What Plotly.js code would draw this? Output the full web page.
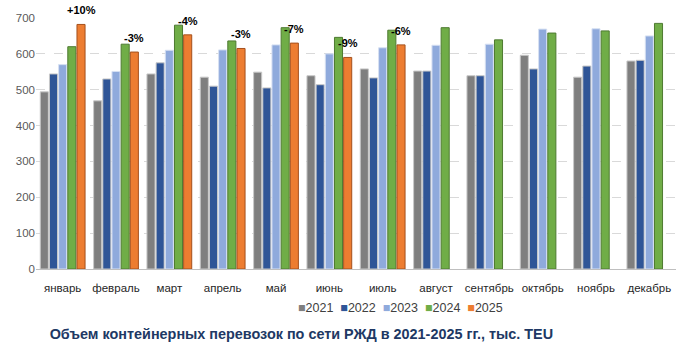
<!DOCTYPE html>
<html><head><meta charset="utf-8">
<script src="https://cdn.plot.ly/plotly-3.0.1.min.js"></script>
<style>body{margin:0;background:#fff}#c{width:690px;height:352px}</style>
</head><body><div id="c"></div>
<script>
const months = ['январь','февраль','март','апрель','май','июнь','июль','август','сентябрь','октябрь','ноябрь','декабрь'];
const y2021 = [494,469,544,535,549,539,558,552,539,596,535,580];
const y2022 = [544,530,575,510,505,514,533,552,539,558,566,582];
const y2023 = [570,551,610,611,625,600,617,624,627,669,670,650];
const y2024 = [620,627,680,636,673,646,666,673,639,658,664,685];
const y2025 = [682,605,653,615,630,590,625,null,null,null,null,null];
const changes = ['+10%','-3%','-4%','-3%','-7%','-9%','-6%','','','','',''];
const seriesNames = ['2021','2022','2023','2024','2025'];
const colors = ['#7F7F7F','#2F5597','#8FAADC','#70AD47','#ED7D31'];
const lineColors = ['#C8C8C8','#C8C8C8','#D6E0F2','#4E7A31','#A5501C'];
const W = 690, H = 352, M = {l:36, r:14, t:18, b:83};
const bargap = 0.14;
const data = [y2021,y2022,y2023,y2024,y2025].map((v,i)=>({
  type:'bar', x:months, y:v, name:seriesNames[i],
  marker:{color:colors[i], line:{color:lineColors[i], width:1}},
  hoverinfo:'skip', showlegend:false
}));

// offset of the last (2025) bar inside each group, in pixels
const catW = (W - M.l - M.r) / months.length;
const slotW = catW * (1 - bargap) / seriesNames.length;
const lastOffset = 2 * slotW;

const annotations = [];
months.forEach((m,i)=>{
  if (changes[i] && y2025[i] != null) {
    annotations.push({x:m, y:y2025[i], xref:'x', yref:'y', text:'<b>'+changes[i]+'</b>',
      showarrow:false, xshift:lastOffset, yshift:14, yanchor:'middle',
      font:{family:'Liberation Sans, Arial', size:11, color:'#000'}});
  }
});
// legend as one line of text
const legendText = seriesNames.map((n,i)=>'<span style="color:'+colors[i]+'">■</span>'+n).join('  ');
annotations.push({xref:'paper', yref:'paper', x:(400-M.l)/(W-M.l-M.r), y:-(308-(H-M.b))/(H-M.t-M.b),
  xanchor:'center', yanchor:'middle', showarrow:false, text:legendText,
  font:{family:'Liberation Sans Narrow, Liberation Sans, Arial', size:12.5, color:'#404040'}});

const layout = {
  width:W, height:H, margin:M,
  paper_bgcolor:'#fff', plot_bgcolor:'#fff',
  barmode:'group', bargap:bargap, bargroupgap:0.12,
  font:{family:'Liberation Sans, Arial', size:11, color:'#404040'},
  xaxis:{showgrid:false, showline:true, linecolor:'#BFBFBF', linewidth:1,
    tickfont:{size:11.5, color:'#262626'}, ticks:'', ticklabelstandoff:8, fixedrange:true},
  yaxis:{range:[0,700], dtick:100, showgrid:true, gridcolor:'#D9D9D9', griddash:'dash',
    zeroline:false, showline:false, tickfont:{size:11.5, color:'#595959'}, ticks:'', fixedrange:true},
  showlegend:false,
  annotations:annotations,
  title:{text:'<b>Объем контейнерных перевозок по сети РЖД в 2021-2025 гг., тыс. TEU</b>',
    x:0.072, xanchor:'left', xref:'container', y:0.052, yref:'container', yanchor:'middle',
    font:{family:'Liberation Sans, Arial', size:14.4, color:'#203864'}}
};
Plotly.newPlot('c', data, layout, {displayModeBar:false, staticPlot:true});
</script></body></html>
